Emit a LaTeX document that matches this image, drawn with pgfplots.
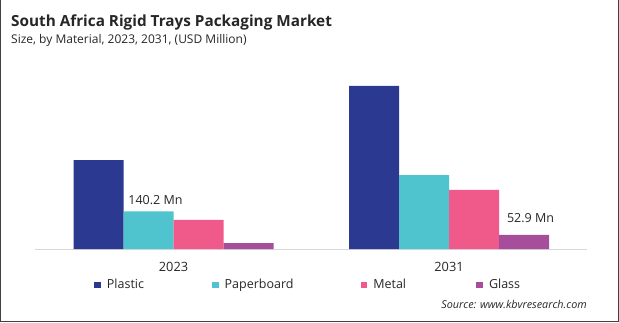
\documentclass[border=0pt]{standalone}
\usepackage{pgfplots}
\pgfplotsset{compat=1.18}
\usepackage{fontspec}
\setmainfont{Open Sans}
\definecolor{cPlastic}{HTML}{2B3990}
\definecolor{cPaper}{HTML}{4FC4CF}
\definecolor{cMetal}{HTML}{EF5A8A}
\definecolor{cGlass}{HTML}{A64D9C}
\definecolor{axgray}{HTML}{D9D9D9}
\definecolor{frame}{HTML}{404040}
\begin{document}
\begin{tikzpicture}
\useasboundingbox (0,0) rectangle (619pt,322pt);
\draw[frame, line width=1.2pt] (0.6pt,322pt) -- (0.6pt,0.6pt) -- (618.4pt,0.6pt) -- (618.4pt,322pt);
\node[anchor=base west, inner sep=0pt, font=\fontsize{15.3}{18}\selectfont\bfseries, text=black!85] at (11pt,295pt) {South Africa Rigid Trays Packaging Market};
\node[anchor=base west, inner sep=0pt, font=\fontsize{12}{14}\selectfont, text=black!85] at (11pt,278.5pt) {Size, by Material, 2023, 2031, (USD Million)};
\node[anchor=base east, inner sep=0pt, font=\fontsize{10.8}{12}\selectfont\itshape, text=black!85] at (587pt,14pt) {Source: www.kbvresearch.com};
\begin{axis}[
  at={(173.5pt,73pt)}, anchor=origin,
  scale only axis, width=552pt, height=179pt,
  xmin=-0.5027, xmax=1.5009, ymin=0, ymax=666,
  ybar, bar width=50pt,
  axis y line=none,
  axis x line*=bottom,
  x axis line style={axgray, line width=1pt, -},
  xtick={0,1}, xticklabels={2023,2031},
  xtick style={draw=none},
  xticklabel style={anchor=base, yshift=-18pt, font=\fontsize{12.8}{14}\selectfont, text=black!85},
  clip=false,
  legend columns=4,
  legend style={at={(axis description cs:0.1069,-0.201)}, anchor=west, draw=none, fill=none,
    inner sep=0pt, column sep=0pt, font=\fontsize{12.5}{14}\selectfont,
    nodes={inner sep=0pt, anchor=west, text=black!85}},
  legend image code/.code={\fill[#1] (0pt,-3.3pt) rectangle (6.7pt,3.4pt);},
]
\addplot[fill=cPlastic, draw=none, bar shift=-75pt] coordinates {(0,331) (1,607)};
\addplot[fill=cPaper, draw=none, bar shift=-25pt] coordinates {(0,140.2) (1,275)};
\addplot[fill=cMetal, draw=none, bar shift=25pt] coordinates {(0,108) (1,220)};
\addplot[fill=cGlass, draw=none, bar shift=75pt] coordinates {(0,22) (1,52.9)};
\legend{\hspace{6pt}\makebox[105pt][l]{Plastic},\hspace{6pt}\makebox[136pt][l]{Paperboard},\hspace{6pt}\makebox[103pt][l]{Metal},\hspace{6pt}Glass}
\addplot[draw=none, fill=none, bar shift=-25pt, forget plot,
  nodes near coords={140.2 Mn},
  every node near coord/.append style={anchor=center, xshift=7pt, yshift=11pt, font=\fontsize{12.5}{14}\selectfont, text=black!85}]
  coordinates {(0,140.2)};
\addplot[draw=none, fill=none, bar shift=75pt, forget plot,
  nodes near coords={52.9 Mn},
  every node near coord/.append style={anchor=center, xshift=6.5pt, yshift=17pt, font=\fontsize{12.5}{14}\selectfont, text=black!85}]
  coordinates {(1,52.9)};
\end{axis}
\end{tikzpicture}
\end{document}
